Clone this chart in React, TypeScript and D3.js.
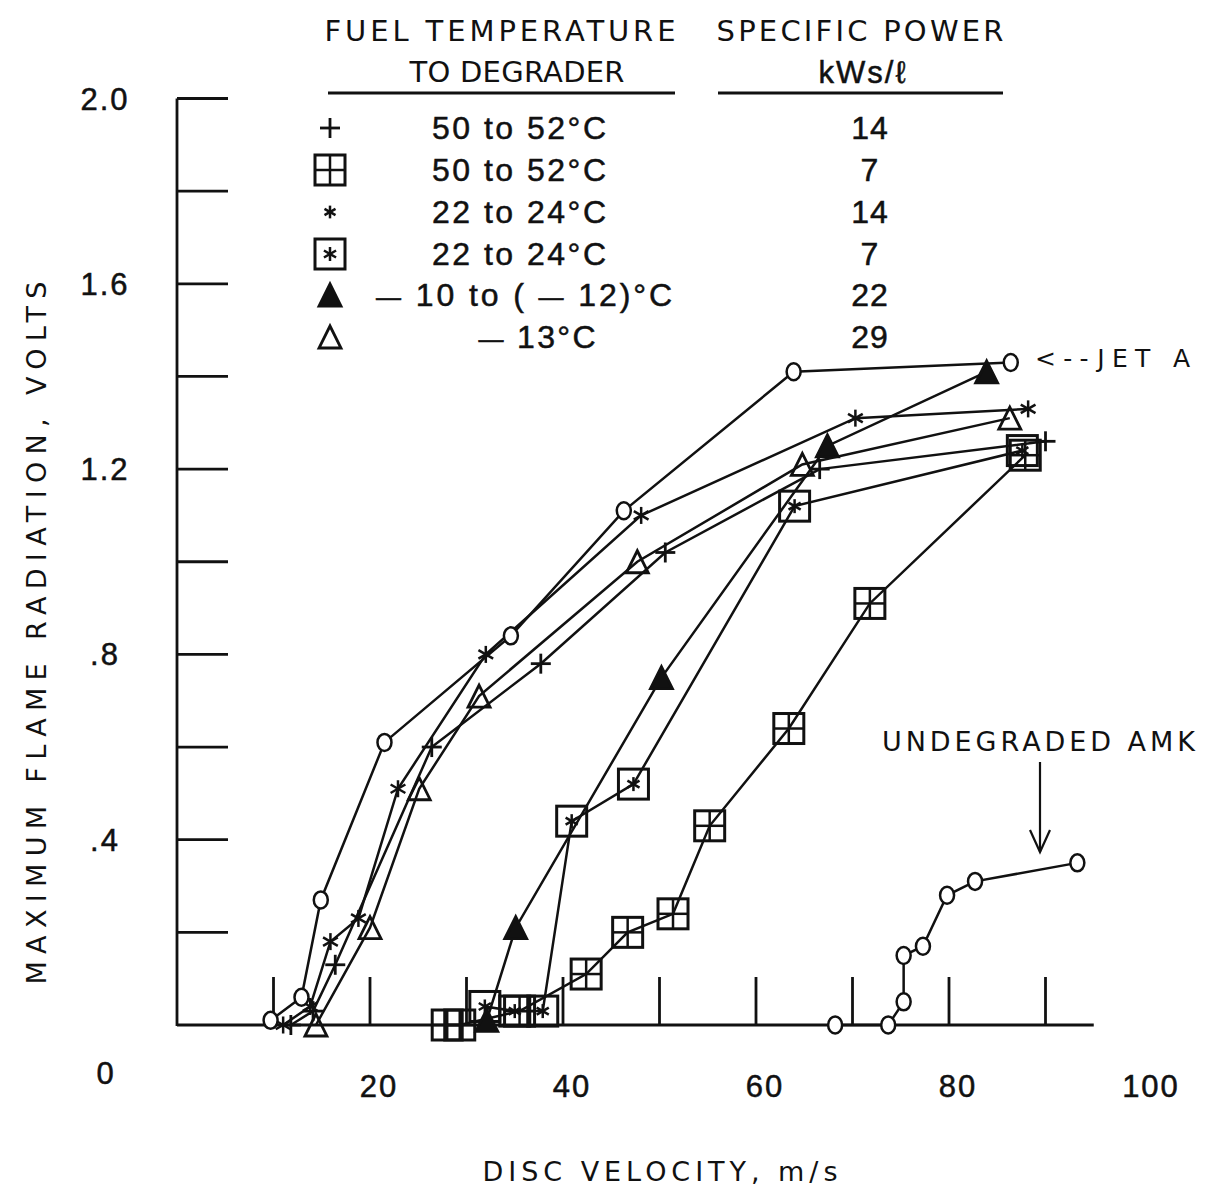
import React from "react";
import * as d3 from "d3";

// Disc velocity (m/s) and maximum flame radiation (volts) for each test series
const jetAX = [9.7, 12.9, 14.9, 21.5, 34.6, 46.3, 63.9, 86.4];
const jetAY = [0.01, 0.06, 0.27, 0.61, 0.84, 1.11, 1.41, 1.43];

const plus14X = [11.8, 14.1, 16.4, 26.4, 37.7, 50.6, 66.6, 90.0];
const plus14Y = [0.0, 0.03, 0.13, 0.6, 0.78, 1.02, 1.2, 1.26];

const boxPlus7X = [28.0, 29.3, 35.5, 42.4, 46.7, 51.4, 55.2, 63.4, 71.8, 87.9];
const boxPlus7Y = [0.0, 0.0, 0.03, 0.11, 0.2, 0.24, 0.43, 0.64, 0.91, 1.23];

const star14X = [11.0, 13.8, 15.9, 18.8, 22.9, 32.0, 48.1, 70.3, 88.2];
const star14Y = [0.0, 0.04, 0.18, 0.23, 0.51, 0.8, 1.1, 1.31, 1.33];

const boxStar7X = [31.9, 35.0, 37.9, 40.9, 47.3, 64.0, 87.6];
const boxStar7Y = [0.04, 0.03, 0.03, 0.44, 0.52, 1.12, 1.24];

const filledTriX = [32.1, 35.1, 50.2, 67.4, 83.9];
const filledTriY = [0.01, 0.21, 0.75, 1.25, 1.41];

const openTriX = [14.4, 20.0, 25.1, 31.3, 47.7, 64.8, 86.3];
const openTriY = [0.0, 0.21, 0.51, 0.71, 1.0, 1.21, 1.31];

const amkX = [68.2, 73.7, 75.3, 75.3, 77.3, 79.8, 82.7, 93.3];
const amkY = [0.0, 0.0, 0.05, 0.15, 0.17, 0.28, 0.31, 0.35];

const xTicks = [10, 20, 30, 40, 50, 60, 70, 80, 90];
const xTickLabels = [20, 40, 60, 80, 100];
const yTicks = [0.2, 0.4, 0.6, 0.8, 1.0, 1.2, 1.4, 1.6, 1.8, 2.0];
const yTickLabels = ["2.0", "1.6", "1.2", ".8", ".4"];
const yTickLabelValues = [2.0, 1.6, 1.2, 0.8, 0.4];

const legendSymbols = ["plus", "boxPlus", "star", "boxStar", "triFilled", "triOpen"];
// "—" marks a long minus sign in the temperature labels
const legendTemps = ["50 to 52°C", "50 to 52°C", "22 to 24°C", "22 to 24°C", "— 10 to ( — 12)°C", "— 13°C"];
const legendPowers = ["14", "7", "14", "7", "22", "29"];

const FONT = "'Liberation Sans', Arial, Helvetica, sans-serif";
const LETTERING = "'DejaVu Sans', Verdana, sans-serif";
const INK = "#111";

const x = d3.scaleLinear().domain([0, 100]).range([177, 1142]);
const y = d3.scaleLinear().domain([0, 2]).range([1025, 98.5]);

type Kind = "circle" | "plus" | "boxPlus" | "star" | "boxStar" | "triFilled" | "triOpen";

function Marker({ kind, cx, cy, s = 1 }: { kind: Kind; cx: number; cy: number; s?: number }) {
  const sw = 2.5;
  const starArms = (r: number) =>
    [90, 30, 150].map((a, i) => {
      const rad = (a * Math.PI) / 180;
      const dx = Math.cos(rad) * r;
      const dy = Math.sin(rad) * r;
      return <line key={i} x1={cx - dx} y1={cy - dy} x2={cx + dx} y2={cy + dy} stroke={INK} strokeWidth={sw} />;
    });
  switch (kind) {
    case "circle":
      return <ellipse cx={cx} cy={cy} rx={7} ry={8.5} fill="white" stroke={INK} strokeWidth={sw} />;
    case "plus": {
      const r = 10 * s;
      return (
        <g>
          <line x1={cx - r} y1={cy} x2={cx + r} y2={cy} stroke={INK} strokeWidth={sw + 0.3} />
          <line x1={cx} y1={cy - r} x2={cx} y2={cy + r} stroke={INK} strokeWidth={sw + 0.3} />
        </g>
      );
    }
    case "boxPlus": {
      const h = 15 * s;
      return (
        <g>
          <rect x={cx - h} y={cy - h} width={2 * h} height={2 * h} fill="none" stroke={INK} strokeWidth={sw + 0.5} />
          <line x1={cx - h} y1={cy} x2={cx + h} y2={cy} stroke={INK} strokeWidth={sw} />
          <line x1={cx} y1={cy - h} x2={cx} y2={cy + h} stroke={INK} strokeWidth={sw} />
        </g>
      );
    }
    case "star":
      return <g>{starArms(8.5 * s)}</g>;
    case "boxStar": {
      const h = 15 * s;
      return (
        <g>
          <rect x={cx - h} y={cy - h} width={2 * h} height={2 * h} fill="none" stroke={INK} strokeWidth={sw + 0.5} />
          {starArms(7 * s)}
        </g>
      );
    }
    case "triFilled":
    case "triOpen": {
      const h = 11 * s;
      const pts = `${cx},${cy - h} ${cx + h},${cy + h} ${cx - h},${cy + h}`;
      return (
        <polygon
          points={pts}
          fill={kind === "triFilled" ? INK : "none"}
          stroke={INK}
          strokeWidth={sw + 0.3}
          strokeLinejoin="miter"
        />
      );
    }
  }
  return null;
}

function Series({ xs, ys, kind }: { xs: number[]; ys: number[]; kind: Kind }) {
  const pts = xs.map((v, i) => [v, ys[i]] as [number, number]);
  const line = d3
    .line<[number, number]>()
    .x((d) => x(d[0]))
    .y((d) => y(d[1]));
  return (
    <g>
      <path d={line(pts) || ""} fill="none" stroke={INK} strokeWidth={2.5} />
      {pts.map((d, i) => (
        <Marker key={i} kind={kind} cx={x(d[0])} cy={y(d[1])} />
      ))}
    </g>
  );
}

// Splits a label so each long minus sign is drawn a little smaller than the digits
function withDashes(label: string) {
  return label.split(/(—)/).map((part, i) =>
    part === "—" ? (
      <tspan key={i} fontSize={25}>
        —
      </tspan>
    ) : (
      <tspan key={i}>{part}</tspan>
    )
  );
}

export default function App() {
  const legendRowsY = [128, 170, 212, 254, 295, 337];
  const tempCenters = [519, 519, 519, 519, 524, 537];
  const tempWidths = [174, 174, 174, 174, 296, 117];
  return (
    <svg
      width={1223}
      height={1190}
      viewBox="0 0 1223 1190"
      style={{ position: "absolute", left: 0, top: 0, background: "white" }}
      fontFamily={FONT}
    >
      <rect x={0} y={0} width={1223} height={1190} fill="white" />

      {/* Axes */}
      <line x1={x(0)} y1={y(0)} x2={x(95)} y2={y(0)} stroke={INK} strokeWidth={2.8} />
      <line x1={x(0)} y1={y(0) + 1} x2={x(0)} y2={y(2)} stroke={INK} strokeWidth={2.8} />
      {xTicks.map((t) => (
        <line key={t} x1={x(t)} y1={y(0)} x2={x(t)} y2={y(0) - 48} stroke={INK} strokeWidth={2.8} />
      ))}
      {yTicks.map((t) => (
        <line key={t} x1={x(0)} y1={y(t)} x2={x(0) + 51} y2={y(t)} stroke={INK} strokeWidth={2.8} />
      ))}
      {xTickLabels.map((t) => (
        <text
          key={t}
          x={x(t) + 9}
          y={1097}
          fontSize={31}
          letterSpacing={2}
          textAnchor="middle"
          fill={INK}
          stroke={INK}
          strokeWidth={0.5}
        >
          {t}
        </text>
      ))}
      {yTickLabels.map((t, i) => (
        <text
          key={t}
          x={105}
          y={y(yTickLabelValues[i]) + 11}
          fontSize={31}
          letterSpacing={2}
          textAnchor="middle"
          fill={INK}
          stroke={INK}
          strokeWidth={0.5}
        >
          {t}
        </text>
      ))}
      <text x={105} y={1084} fontSize={31} textAnchor="middle" fill={INK} stroke={INK} strokeWidth={0.5}>
        0
      </text>

      {/* Axis titles */}
      <text
        transform="translate(46,633) rotate(-90)"
        fontFamily={LETTERING}
        fontSize={27}
        textAnchor="middle"
        textLength={703}
        lengthAdjust="spacing"
        fill={INK}
      >
        MAXIMUM FLAME RADIATION, VOLTS
      </text>
      <text
        x={660}
        y={1181}
        fontFamily={LETTERING}
        fontSize={27}
        textAnchor="middle"
        textLength={355}
        lengthAdjust="spacing"
        fill={INK}
      >
        DISC VELOCITY, m/s
      </text>

      {/* Data */}
      <Series xs={amkX} ys={amkY} kind="circle" />
      <Series xs={boxPlus7X} ys={boxPlus7Y} kind="boxPlus" />
      <Series xs={boxStar7X} ys={boxStar7Y} kind="boxStar" />
      <Series xs={filledTriX} ys={filledTriY} kind="triFilled" />
      <Series xs={openTriX} ys={openTriY} kind="triOpen" />
      <Series xs={plus14X} ys={plus14Y} kind="plus" />
      <Series xs={star14X} ys={star14Y} kind="star" />
      <Series xs={jetAX} ys={jetAY} kind="circle" />

      {/* Annotations */}
      <text x={1035} y={367} fontFamily={LETTERING} fontSize={25} textLength={155} lengthAdjust="spacing" fill={INK}>
        {"<--JET A"}
      </text>
      <text x={882} y={751} fontFamily={LETTERING} fontSize={27} textLength={313} lengthAdjust="spacing" fill={INK}>
        UNDEGRADED AMK
      </text>
      <line x1={1040} y1={762} x2={1040} y2={852} stroke={INK} strokeWidth={2.2} />
      <polyline points="1030,830 1040,852 1050,830" fill="none" stroke={INK} strokeWidth={2.2} />

      {/* Legend header */}
      <text
        x={500}
        y={41}
        fontFamily={LETTERING}
        fontSize={29}
        textAnchor="middle"
        textLength={351}
        lengthAdjust="spacing"
        fill={INK}
      >
        FUEL TEMPERATURE
      </text>
      <text
        x={517}
        y={82}
        fontFamily={LETTERING}
        fontSize={29}
        textAnchor="middle"
        textLength={215}
        lengthAdjust="spacing"
        fill={INK}
      >
        TO DEGRADER
      </text>
      <text
        x={860}
        y={41}
        fontFamily={LETTERING}
        fontSize={29}
        textAnchor="middle"
        textLength={287}
        lengthAdjust="spacing"
        fill={INK}
      >
        SPECIFIC POWER
      </text>
      <text
        x={862}
        y={83}
        fontSize={31}
        textAnchor="middle"
        textLength={87}
        lengthAdjust="spacing"
        fill={INK}
        stroke={INK}
        strokeWidth={0.5}
      >
        kWs/ℓ
      </text>
      <line x1={328} y1={93} x2={675} y2={93} stroke={INK} strokeWidth={2.8} />
      <line x1={718} y1={93} x2={1003} y2={93} stroke={INK} strokeWidth={2.8} />

      {/* Legend rows */}
      {legendSymbols.map((k, i) => (
        <g key={i}>
          <Marker kind={k as Kind} cx={330} cy={legendRowsY[i]} s={k === "star" ? 0.75 : 1} />
          <text
            x={tempCenters[i]}
            y={legendRowsY[i] + 11}
            fontSize={32}
            textAnchor="middle"
            textLength={tempWidths[i]}
            lengthAdjust="spacing"
            fill={INK}
            stroke={INK}
            strokeWidth={0.5}
          >
            {withDashes(legendTemps[i])}
          </text>
          <text
            x={870}
            y={legendRowsY[i] + 11}
            fontSize={32}
            letterSpacing={1}
            textAnchor="middle"
            fill={INK}
            stroke={INK}
            strokeWidth={0.5}
          >
            {legendPowers[i]}
          </text>
        </g>
      ))}
    </svg>
  );
}
